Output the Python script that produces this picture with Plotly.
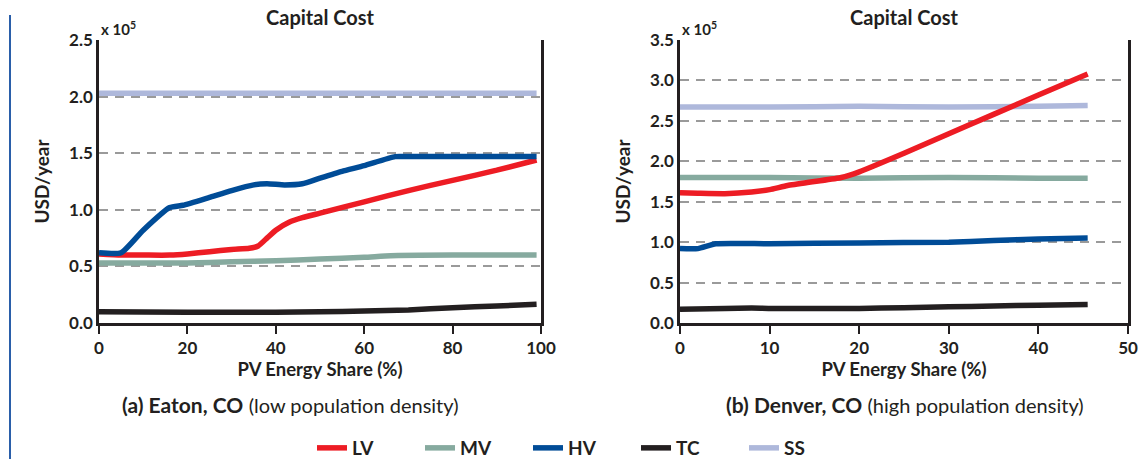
import plotly.graph_objects as go

# ---------------- data (values in units of 1e5 USD/year) ----------------
series_names = ["LV", "MV", "HV", "TC", "SS"]
series_colors = ["#ed1c24", "#86aa9f", "#004c97", "#231f20", "#aeb8db"]

# (a) Eaton, CO
eaton_lv_x = [0, 5, 10, 16, 20, 25, 30, 34, 36, 38, 40, 43, 46, 50, 60, 70, 80, 90, 99]
eaton_lv_y = [0.61, 0.60, 0.60, 0.60, 0.61, 0.63, 0.65, 0.66, 0.68, 0.75, 0.82, 0.89, 0.93, 0.97, 1.07, 1.17, 1.26, 1.35, 1.44]
eaton_mv_x = [0, 10, 20, 30, 40, 50, 60, 66, 80, 90, 99]
eaton_mv_y = [0.53, 0.53, 0.53, 0.54, 0.55, 0.565, 0.58, 0.595, 0.60, 0.60, 0.60]
eaton_hv_x = [0, 5, 10, 16, 19, 25, 30, 35, 38, 42, 46, 50, 55, 60, 67, 70, 80, 90, 99]
eaton_hv_y = [0.62, 0.62, 0.82, 1.02, 1.04, 1.11, 1.17, 1.22, 1.23, 1.22, 1.23, 1.28, 1.34, 1.39, 1.47, 1.47, 1.47, 1.47, 1.47]
eaton_tc_x = [0, 20, 40, 50, 60, 70, 80, 90, 99]
eaton_tc_y = [0.10, 0.095, 0.095, 0.10, 0.105, 0.115, 0.135, 0.15, 0.165]
eaton_ss_x = [0, 25, 50, 75, 99]
eaton_ss_y = [2.03, 2.03, 2.03, 2.03, 2.03]

# (b) Denver, CO
denver_lv_x = [0, 2, 5, 8, 10, 12, 15, 18, 20, 25, 30, 35, 40, 45.5]
denver_lv_y = [1.61, 1.605, 1.60, 1.62, 1.65, 1.70, 1.75, 1.80, 1.87, 2.10, 2.34, 2.58, 2.82, 3.08]
denver_mv_x = [0, 10, 20, 30, 40, 45.5]
denver_mv_y = [1.80, 1.80, 1.79, 1.80, 1.79, 1.79]
denver_hv_x = [0, 2, 4, 10, 20, 30, 35, 40, 45.5]
denver_hv_y = [0.92, 0.92, 0.98, 0.98, 0.99, 1.00, 1.02, 1.04, 1.05]
denver_tc_x = [0, 5, 8, 10, 20, 25, 30, 35, 40, 45.5]
denver_tc_y = [0.17, 0.18, 0.185, 0.18, 0.18, 0.19, 0.20, 0.21, 0.22, 0.23]
denver_ss_x = [0, 10, 20, 30, 40, 45.5]
denver_ss_y = [2.67, 2.67, 2.68, 2.67, 2.68, 2.69]

left_ticks_y = [0.0, 0.5, 1.0, 1.5, 2.0, 2.5]
right_ticks_y = [0.0, 0.5, 1.0, 1.5, 2.0, 2.5, 3.0, 3.5]
left_ticks_x = [0, 20, 40, 60, 80, 100]
right_ticks_x = [0, 10, 20, 30, 40, 50]

panel_title = "Capital Cost"
x_title = "PV Energy Share (%)"
y_title = "USD/year"
sub_a = ("(a) Eaton, CO", "(low population density)")
sub_b = ("(b) Denver, CO", "(high population density)")

# ---------------- figure ----------------
W, H = 1141, 459
FONT = "Lato"
TXT = "#231f20"

fig = go.Figure()

eaton = [(eaton_lv_x, eaton_lv_y), (eaton_mv_x, eaton_mv_y), (eaton_hv_x, eaton_hv_y),
         (eaton_tc_x, eaton_tc_y), (eaton_ss_x, eaton_ss_y)]
denver = [(denver_lv_x, denver_lv_y), (denver_mv_x, denver_mv_y), (denver_hv_x, denver_hv_y),
          (denver_tc_x, denver_tc_y), (denver_ss_x, denver_ss_y)]

order = [4, 1, 0, 2, 3]  # draw order: SS, MV, LV, HV, TC
for i in order:
    xs, ys = eaton[i]
    fig.add_trace(go.Scatter(x=xs, y=ys, mode="lines", name=series_names[i],
                             line=dict(color=series_colors[i], width=5.5, shape="spline", smoothing=0.5),
                             xaxis="x", yaxis="y", showlegend=False, hoverinfo="skip"))
for i in order:
    xs, ys = denver[i]
    fig.add_trace(go.Scatter(x=xs, y=ys, mode="lines", name=series_names[i],
                             line=dict(color=series_colors[i], width=5.5, shape="spline", smoothing=0.5),
                             xaxis="x2", yaxis="y2", showlegend=False, hoverinfo="skip"))
# legend entries (in LV, MV, HV, TC, SS order)
for i in range(5):
    fig.add_trace(go.Scatter(x=[None], y=[None], mode="lines", name=series_names[i],
                             line=dict(color=series_colors[i], width=5.5),
                             xaxis="x", yaxis="y", showlegend=True))

px_x = lambda p: p / W
px_y = lambda p: (H - p) / H

dom_y = [px_y(323), px_y(40)]
dom_x1 = [px_x(99), px_x(541)]
dom_x2 = [px_x(680), px_x(1128)]

axis_common = dict(showline=True, linecolor=TXT, linewidth=2.5, zeroline=False, automargin=False,
                   tickfont=dict(family=FONT, size=17, color=TXT, weight="bold"))
xcommon = dict(axis_common, ticks="outside", ticklen=8, tickwidth=2, tickcolor=TXT,
               showgrid=False, mirror=False,
               title=dict(text=x_title, font=dict(family=FONT, size=18.5, color=TXT, weight="bold"), standoff=3))
ycommon = dict(axis_common, ticks="", mirror=True, showgrid=True, gridcolor="#9a9a9a",
               gridwidth=1.5, griddash="9px,7px", tickformat=".1f",
               title=dict(text=y_title, font=dict(family=FONT, size=19, color=TXT, weight="bold"), standoff=15))

fig.update_layout(
    width=W, height=H,
    margin=dict(l=0, r=0, t=0, b=0, autoexpand=False),
    paper_bgcolor="white", plot_bgcolor="white",
    xaxis=dict(xcommon, domain=dom_x1, range=[0, 100], tickvals=left_ticks_x, anchor="y"),
    yaxis=dict(ycommon, domain=dom_y, range=[0, 2.5], tickvals=left_ticks_y, anchor="x"),
    xaxis2=dict(xcommon, domain=dom_x2, range=[0, 50], tickvals=right_ticks_x, anchor="y2"),
    yaxis2=dict(ycommon, domain=dom_y, range=[0, 3.5], tickvals=right_ticks_y, anchor="x2"),
    legend=dict(orientation="h", x=px_x(582), xanchor="center", y=px_y(448), yanchor="middle",
                font=dict(family=FONT, size=19, color=TXT, weight="bold"),
                entrywidth=63, entrywidthmode="pixels", bgcolor="rgba(0,0,0,0)",
                itemclick=False, itemdoubleclick=False),
    showlegend=True,
)

annots = []
for dom in (dom_x1, dom_x2):
    cx = (dom[0] + dom[1]) / 2
    annots.append(dict(text=f"<b>{panel_title}</b>", x=cx, y=px_y(17), xref="paper", yref="paper",
                       showarrow=False, xanchor="center", yanchor="middle",
                       font=dict(family=FONT, size=20, color=TXT)))
    annots.append(dict(text="x 10<sup>5</sup>", x=dom[0], y=px_y(28), xref="paper", yref="paper",
                       showarrow=False, xanchor="left", yanchor="middle",
                       font=dict(family=FONT, size=15, color=TXT, weight="bold")))
for cxp, (bold, rest) in ((290, sub_a), (905, sub_b)):
    annots.append(dict(text=f"<b>{bold}</b> <span style='font-size:20px'>{rest}</span>",
                       x=px_x(cxp), y=px_y(404), xref="paper", yref="paper", showarrow=False,
                       xanchor="center", yanchor="middle",
                       font=dict(family=FONT, size=21, color=TXT)))
fig.update_layout(annotations=annots)

fig.add_shape(type="line", xref="paper", yref="paper", x0=px_x(10), x1=px_x(10),
              y0=0, y1=px_y(15), line=dict(color="#2a5ea9", width=2))

fig.write_html("out.html", config={"displayModeBar": False},
               post_script="document.body.style.margin='0px';")
